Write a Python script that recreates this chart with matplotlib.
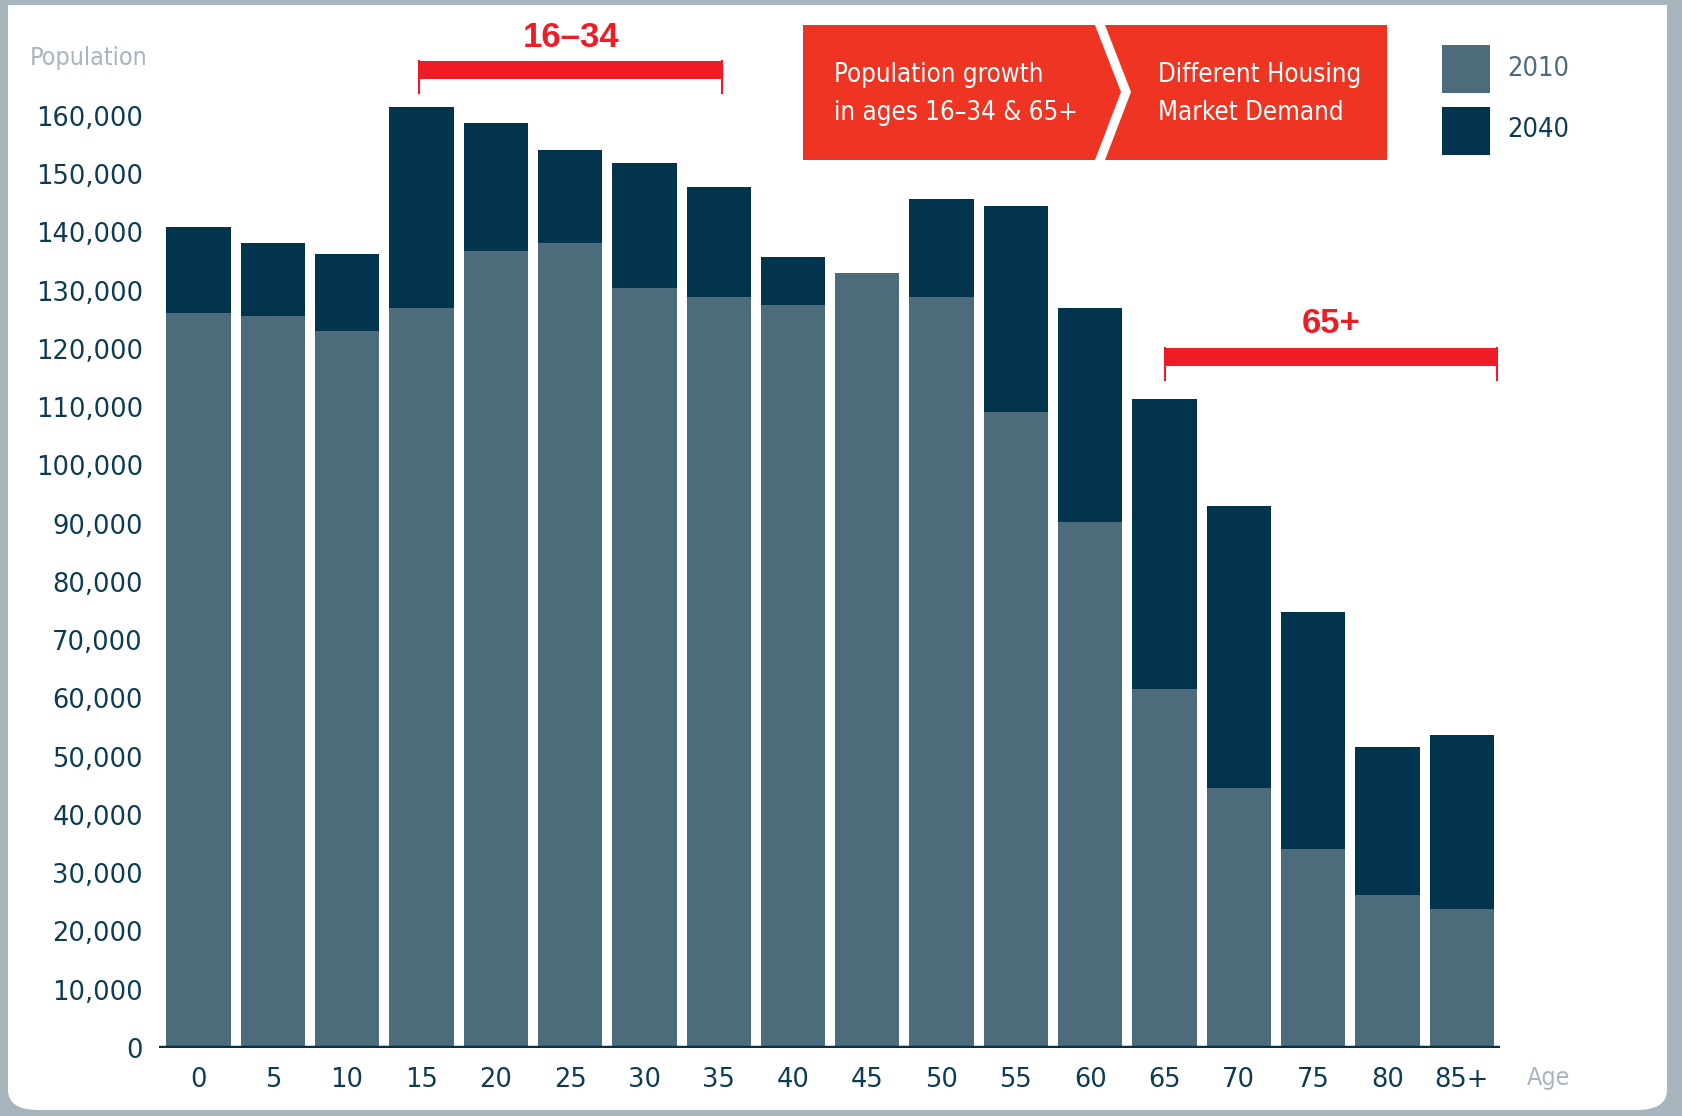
import matplotlib
matplotlib.use('Agg')
import matplotlib.pyplot as plt
from matplotlib.patches import Polygon, FancyBboxPatch, Rectangle
from matplotlib.ticker import FuncFormatter

# data
ages = ['0', '5', '10', '15', '20', '25', '30', '35', '40', '45',
        '50', '55', '60', '65', '70', '75', '80', '85+']
pop_2010 = [126100, 125600, 123000, 127100, 136800, 138100, 130400, 128900, 127600,
            133000, 128900, 109200, 90200, 61700, 44600, 34100, 26300, 23900]
pop_2040 = [141000, 138100, 136300, 161500, 158700, 154100, 151900, 147700, 135700,
            131000, 145800, 144600, 127100, 111400, 93000, 74900, 51600, 53800]
yticks = list(range(0, 170000, 10000))

c2010 = '#4c6b7b'
c2040 = '#02354d'
navy = '#0d3b52'
grey = '#a9b5bd'
red = '#ee1c25'
box_red = '#ee3524'
narrow = dict(family=['Liberation Sans Narrow', 'DejaVu Sans'], fontstretch='condensed')

W, H = 1682, 1116
fig = plt.figure(figsize=(W / 100, H / 100), dpi=100)
fig.patch.set_facecolor('#a8b4bc')


def px(x, y):
    # top-left pixel -> figure fraction
    return x / W, 1 - y / H


# white card with rounded bottom corners
fig.patches.append(FancyBboxPatch(px(8, 1110), (1667 - 8) / W, (1110 - 5) / H,
                                  boxstyle='round,pad=0,rounding_size=0.018',
                                  transform=fig.transFigure, facecolor='white',
                                  edgecolor='none', zorder=-2))
fig.patches.append(Rectangle(px(8, 100), (1667 - 8) / W, 95 / H,
                             transform=fig.transFigure, facecolor='white',
                             edgecolor='none', zorder=-2))

ax = fig.add_axes([158.8 / W, 68 / H, (1499.7 - 158.8) / W, 1048.7 / H])
ax.set_facecolor('none')
x = list(range(len(ages)))
ax.bar(x, pop_2040, width=0.865, color=c2040, zorder=2)
ax.bar(x, pop_2010, width=0.865, color=c2010, zorder=3)
ax.axhline(0, color=c2040, lw=3.2, zorder=4)

ax.set_xlim(-0.534, 17.51)
ax.set_ylim(0, 180000)
ax.set_yticks(yticks)
ax.yaxis.set_major_formatter(FuncFormatter(lambda v, p: f'{int(v):,}'))
ax.set_xticks(x)
ax.set_xticklabels(ages)
ax.tick_params(axis='y', length=0, pad=11.5, labelsize=18.5, labelcolor=navy)
ax.tick_params(axis='x', length=0, pad=14, labelsize=18.5, labelcolor=navy)
for s in ax.spines.values():
    s.set_visible(False)


# red brackets
def bracket(x0, x1, top, bot, tick_bot, label, ly):
    ax.fill_between([x0, x1], bot, top, color=red, lw=0, zorder=5, clip_on=False)
    ax.plot([x0, x0], [top, tick_bot], color=red, lw=1.5, zorder=5, clip_on=False)
    ax.plot([x1, x1], [top, tick_bot], color=red, lw=1.5, zorder=5, clip_on=False)
    ax.text((x0 + x1) / 2, ly, label, color=red, fontsize=25, fontweight='bold',
            family=['Liberation Sans', 'DejaVu Sans'], ha='center', va='center',
            clip_on=False)


bracket(2.97, 7.05, 169400, 166300, 163900, '16\u201334', 173500)
bracket(13.01, 17.47, 120150, 117060, 114660, '65+', 124350)

# red chevron boxes
left_box = [(803, 25), (1095, 25), (1121, 92), (1095, 160), (803, 160)]
right_box = [(1105, 25), (1387, 25), (1387, 160), (1105, 160), (1131, 92)]
for pts in (left_box, right_box):
    fig.patches.append(Polygon([px(a, b) for a, b in pts], closed=True,
                               transform=fig.transFigure, facecolor=box_red,
                               edgecolor='none', zorder=5))

for tx, ty, s in [(834, 75, 'Population growth'), (834, 113, 'in ages 16\u201334 & 65+'),
                  (1158, 75, 'Different Housing'), (1158, 113, 'Market Demand')]:
    fig.text(*px(tx, ty), s, color='white', fontsize=18.5, ha='left', va='center',
             zorder=6, **narrow)

# legend
fig.patches.append(Rectangle(px(1442, 93), 48 / W, 48 / H, transform=fig.transFigure,
                             facecolor=c2010, edgecolor='none', zorder=5))
fig.patches.append(Rectangle(px(1442, 155), 48 / W, 48 / H, transform=fig.transFigure,
                             facecolor=c2040, edgecolor='none', zorder=5))
fig.text(*px(1507, 69), '2010', color=c2010, fontsize=19.5, ha='left', va='center',
         zorder=6, **narrow)
fig.text(*px(1507, 130), '2040', color=navy, fontsize=19.5, ha='left', va='center',
         zorder=6, **narrow)

# axis titles
fig.text(*px(30, 58), 'Population', color=grey, fontsize=18, ha='left', va='center',
         zorder=6, **narrow)
fig.text(*px(1527, 1078), 'Age', color=grey, fontsize=18, ha='left', va='center',
         zorder=6, **narrow)

fig.savefig('out.png', dpi=100, facecolor=fig.get_facecolor())
